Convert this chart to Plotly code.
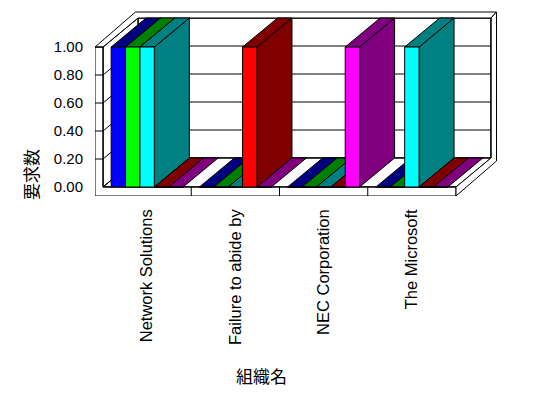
import plotly.graph_objects as go

# ---------------- data ----------------
categories = ["Network Solutions", "Failure to abide by", "NEC Corporation", "The Microsoft"]
series_names = ["系列1", "系列2", "系列3", "系列4", "系列5"]
s1_values = [1, 0, 0, 0]
s2_values = [1, 0, 0, 0]
s3_values = [1, 0, 0, 1]
s4_values = [0, 1, 0, 0]
s5_values = [0, 0, 1, 0]
y_tick_values = [0.0, 0.2, 0.4, 0.6, 0.8, 1.0]
y_tick_labels = ["0.00", "0.20", "0.40", "0.60", "0.80", "1.00"]
y_title = "要求数"
x_title = "組織名"

series_values = [s1_values, s2_values, s3_values, s4_values, s5_values]
front_colors = ["#0000FF", "#00FF00", "#00FFFF", "#FF0000", "#FF00FF"]
dark_colors = ["#000080", "#008000", "#008080", "#800000", "#800080"]

# ---------------- geometry ----------------
OFF = 8                      # page body margin of the browser
W, H = 548 - OFF, 398 - OFF
ML = 95 - OFF                # plot area starts at window x = 95
PLOT_H = 196 - OFF           # plot area ends at window y = 196
MB = H - PLOT_H
PX_PER_CAT = 88.25
PX_PER_VAL = 140.0
x0_px = 8                    # category 0 sits 8 px right of plot area edge
y0_px = 9                    # value 0 sits 9 px above plot area bottom
DX, DY = 35 / PX_PER_CAT, 29 / PX_PER_VAL      # depth offset
TX, TY = 5.5 / PX_PER_CAT, 6 / PX_PER_VAL      # back wall thickness
LW = 8 / PX_PER_CAT                             # left wall thickness
FT = 9 / PX_PER_VAL                             # floor thickness
ncat = len(categories)
nser = len(series_values)
bargap = 16.3 / PX_PER_CAT
bw = (1 - bargap) / nser
top = max(y_tick_values)

plot_w = W - ML
xrange_ = [-x0_px / PX_PER_CAT, (plot_w - x0_px) / PX_PER_CAT]
yrange_ = [-y0_px / PX_PER_VAL, (PLOT_H - y0_px) / PX_PER_VAL]

fig = go.Figure()


def poly(xs, ys, fill, line="black"):
    fig.add_trace(go.Scatter(
        x=list(xs) + [xs[0]], y=list(ys) + [ys[0]], mode="lines", fill="toself",
        fillcolor=fill, line=dict(color=line, width=1), hoverinfo="skip",
        showlegend=False))


def lines(segs):
    xs, ys = [], []
    for (a, b), (c, d) in segs:
        xs += [a, c, None]
        ys += [b, d, None]
    fig.add_trace(go.Scatter(x=xs, y=ys, mode="lines",
                             line=dict(color="black", width=1),
                             hoverinfo="skip", showlegend=False))


# walls and floor
poly([DX, ncat + DX, ncat + DX, DX], [DY, DY, top + DY, top + DY], "white")   # back wall
poly([0, DX, DX, 0], [0, DY, top + DY, top], "white")                          # side wall
poly([0, ncat, ncat + DX, DX], [0, 0, DY, DY], "white")                        # floor top
grid = []
for t in y_tick_values:
    grid.append(((DX, t + DY), (ncat + DX, t + DY)))
    grid.append(((0, t), (DX, t + DY)))
lines(grid)
# front L (left wall front + floor front)
poly([-LW, ncat, ncat, 0, 0, -LW], [-FT, -FT, 0, 0, top, top], "white")
# wall tops
poly([-LW, 0, DX, ncat + DX, ncat + DX + TX, -LW + DX + TX],
     [top, top, top + DY, top + DY, top + DY + TY, top + DY + TY], "white")
# right side faces
poly([ncat, ncat, ncat + DX, ncat + DX, ncat + DX + TX, ncat + DX + TX],
     [-FT, 0, DY, top + DY, top + DY + TY, -FT + DY + TY], "white")
edges = [((0, 0), (ncat, 0)), ((0, 0), (0, top)), ((DX, DY), (DX, top + DY)),
         ((ncat + DX, DY), (ncat + DX, top + DY))]
for t in y_tick_values[1:]:
    edges.append(((-LW, t), (0, t)))
for c in range(1, ncat):
    edges.append(((c, -FT), (c, 0)))
lines(edges)

# bar top / side faces, left to right
for c in range(ncat):
    for j in range(nser):
        h = series_values[j][c]
        xl = c + 0.5 - nser * bw / 2 + j * bw
        xr = xl + bw
        if h > 0:
            poly([xr, xr + DX, xr + DX, xr], [0, DY, h + DY, h], dark_colors[j])
        poly([xl, xr, xr + DX, xl + DX], [h, h, h + DY, h + DY], dark_colors[j])

# bar front faces (on an overlaid axis pair so they are drawn on top)
xc = [c + 0.5 for c in range(ncat)]
for j in range(nser):
    fig.add_trace(go.Bar(
        x=xc, y=series_values[j], name=series_names[j], xaxis="x2", yaxis="y2",
        marker=dict(color=front_colors[j], line=dict(color="black", width=1)),
        hoverinfo="skip", showlegend=False))

hidden = dict(showgrid=False, zeroline=False, showline=False, ticks="",
              showticklabels=False, fixedrange=True)
fig.update_layout(
    width=W, height=H, margin=dict(l=ML, r=0, t=0, b=MB),
    plot_bgcolor="white", paper_bgcolor="white",
    barmode="group", bargap=bargap, bargroupgap=0,
    showlegend=False,
    font=dict(family="Liberation Sans, Arial, sans-serif", color="black"),
    xaxis=dict(range=xrange_, tickvals=xc, ticktext=categories, tickangle=-90,
               showgrid=False, zeroline=False, showline=False, ticks="",
               ticklabelstandoff=9, tickfont=dict(size=16.5), fixedrange=True),
    yaxis=dict(range=yrange_, tickvals=y_tick_values, ticktext=y_tick_labels,
               showgrid=False, zeroline=False, showline=False, ticks="",
               ticklabelstandoff=11, tickfont=dict(size=15), fixedrange=True),
    xaxis2=dict(range=xrange_, overlaying="x", anchor="y2", **hidden),
    yaxis2=dict(range=yrange_, overlaying="y", anchor="x2", **hidden),
    annotations=[
        dict(text=y_title, xref="paper", yref="paper",
             x=(30 - OFF - ML) / plot_w, y=(PLOT_H - (175 - OFF)) / PLOT_H,
             xanchor="center", yanchor="middle", showarrow=False,
             textangle=-90, font=dict(size=17, family="Noto Sans CJK JP")),
        dict(text=x_title, xref="paper", yref="paper",
             x=(261 - OFF - ML) / plot_w, y=(PLOT_H - (375 - OFF)) / PLOT_H,
             xanchor="center", yanchor="middle", showarrow=False,
             font=dict(size=17, family="Noto Sans CJK JP")),
    ],
)

fig.write_html("out.html")
